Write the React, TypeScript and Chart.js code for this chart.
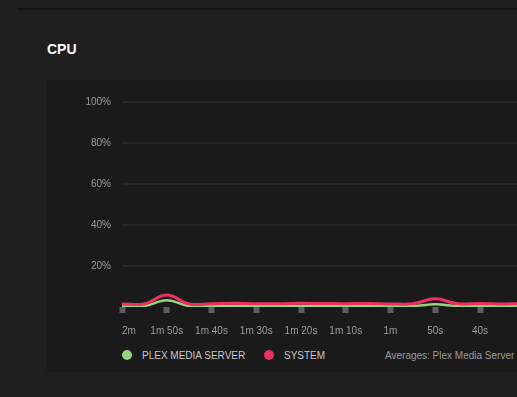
import React, { useEffect, useRef } from "react";
import { Chart, registerables } from "chart.js";

Chart.register(...registerables);

// seconds ago (negative = past)
const SECONDS_AGO = [-120, -115, -110, -105, -100, -95, -90, -85, -80, -75, -70, -65, -60, -55, -50, -45, -40, -35, -30, -25, -20, -15, -10, -5, 0];
const PLEX_MEDIA_SERVER = [0.5, 0.5, 3.3, 0.5, 0.5, 0.5, 0.5, 0.5, 0.5, 0.5, 0.5, 0.5, 0.5, 0.5, 1.3, 0.5, 0.5, 0.5, 0.5, 0.5, 0.5, 0.5, 0.5, 0.5, 0.5];
const SYSTEM = [1.5, 1.5, 5.8, 1.5, 1.6, 1.8, 1.6, 1.6, 1.8, 1.7, 1.6, 1.7, 1.5, 1.6, 4.0, 1.6, 1.7, 1.5, 1.6, 1.6, 1.6, 1.6, 1.6, 1.6, 1.6];
const X_TICK_LABELS = ["2m", "1m 50s", "1m 40s", "1m 30s", "1m 20s", "1m 10s", "1m", "50s", "40s", "30s", "20s", "10s", "0s"];
const Y_TICKS = [0, 20, 40, 60, 80, 100];

const RED = "#ee3060";
const GREEN = "#95d47f";
const FONT = "'Liberation Sans', Arial, Helvetica, sans-serif";

export default function App() {
  const ref = useRef<HTMLCanvasElement>(null);

  useEffect(() => {
    if (!ref.current) return;
    const chart = new Chart(ref.current, {
      type: "line",
      data: {
        datasets: [
          {
            label: "SYSTEM",
            data: SECONDS_AGO.map((x, i) => ({ x, y: SYSTEM[i] })),
            borderColor: RED,
            borderWidth: 3,
            pointRadius: 0,
            tension: 0.4,
            fill: false,
          },
          {
            label: "PLEX MEDIA SERVER",
            data: SECONDS_AGO.map((x, i) => ({ x, y: PLEX_MEDIA_SERVER[i] })),
            borderColor: GREEN,
            borderWidth: 2.5,
            pointRadius: 0,
            tension: 0.4,
            fill: false,
          },
        ],
      },
      options: {
        animation: false,
        responsive: false,
        maintainAspectRatio: false,
        layout: { padding: { top: 22, right: 30, bottom: 0, left: 0 } },
        plugins: { legend: { display: false }, tooltip: { enabled: false } },
        scales: {
          x: {
            type: "linear",
            min: -120,
            max: 0,
            ticks: {
              stepSize: 10,
              align: "inner",
              maxRotation: 0,
              autoSkip: false,
              padding: 12,
              color: "#9a9a9a",
              font: { family: FONT, size: 10 },
              callback: (_v: any, i: number) => X_TICK_LABELS[i],
            },
            grid: {
              drawOnChartArea: false,
              drawTicks: true,
              tickLength: 6,
              tickWidth: 6,
              tickColor: "#5e5e5e",
            },
            border: { display: false },
            afterFit: (s: any) => {
              s.height = 36;
            },
          },
          y: {
            min: 0,
            max: 100,
            afterBuildTicks: (s: any) => {
              s.ticks = Y_TICKS.map((v) => ({ value: v }));
            },
            ticks: {
              padding: 11,
              color: "#9a9a9a",
              font: { family: FONT, size: 10 },
              callback: (v: any) => (v === 0 ? "" : v + "%"),
            },
            grid: {
              drawTicks: false,
              lineWidth: 2,
              color: (c: any) => (c.tick && c.tick.value === 0 ? "rgba(0,0,0,0)" : "#262626"),
            },
            border: { display: false },
            afterFit: (s: any) => {
              s.width = 75;
            },
          },
        },
      },
    });
    return () => chart.destroy();
  }, []);

  return (
    <div
      style={{
        position: "fixed",
        left: 0,
        top: 0,
        width: 517,
        height: 397,
        overflow: "hidden",
        background: "#1f1f1f",
        fontFamily: FONT,
      }}
    >
      <div style={{ position: "absolute", left: 17, top: 8, width: 600, height: 2, background: "#141414" }} />
      <div
        style={{
          position: "absolute",
          left: 47,
          top: 42,
          fontSize: 14,
          lineHeight: "14px",
          fontWeight: "bold",
          color: "#ffffff",
        }}
      >
        CPU
      </div>
      <div style={{ position: "absolute", left: 47, top: 80, width: 700, height: 292, background: "#1a1a1a" }} />
      <canvas
        ref={ref}
        width={642}
        height={263}
        style={{ position: "absolute", left: 47, top: 80, width: 642, height: 263 }}
      />
      <div
        style={{
          position: "absolute",
          left: 122,
          top: 350,
          width: 600,
          height: 10,
          fontSize: 10,
          lineHeight: "10px",
          whiteSpace: "nowrap",
        }}
      >
        <span style={{ position: "absolute", left: 0, top: 0, width: 10, height: 10, borderRadius: 5, background: GREEN }} />
        <span style={{ position: "absolute", left: 20, top: 0.5, color: "#c8c8c8" }}>PLEX MEDIA SERVER</span>
        <span style={{ position: "absolute", left: 142, top: 0, width: 10, height: 10, borderRadius: 5, background: RED }} />
        <span style={{ position: "absolute", left: 162, top: 0.5, color: "#c8c8c8" }}>SYSTEM</span>
        <span style={{ position: "absolute", left: 263, top: 0.5, color: "#9a9a9a" }}>Averages: Plex Media Server</span>
      </div>
    </div>
  );
}
